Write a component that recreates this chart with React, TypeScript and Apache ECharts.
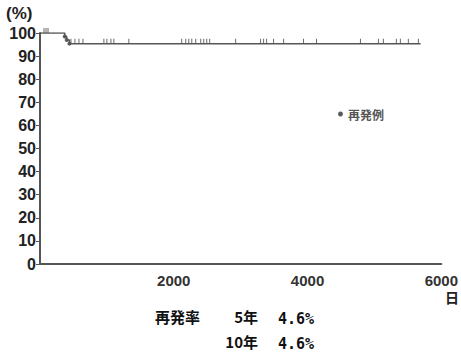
import React, { useEffect, useRef } from "react";
import * as echarts from "echarts";

const xTicks = [0, 2000, 4000, 6000];
const yTicks = [0, 10, 20, 30, 40, 50, 60, 70, 80, 90, 100];
// Kaplan-Meier step curve (days, %)
const stepDays = [0, 370, 400, 440, 5690];
const stepValues = [100, 98.5, 97, 95.4, 95.4];
// recurrence events (days)
const eventDays = [370, 400, 440];
// censored cases (days)
const censorDays = [
  60, 90, 120, 463, 522, 582, 642, 955, 1000, 1060, 1104, 1328, 2119, 2179,
  2224, 2269, 2328, 2403, 2448, 2493, 2537, 2925, 3298, 3343, 3388, 3492,
  3642, 3940, 4134, 4791, 5060, 5134, 5328, 5388, 5507, 5657,
];
const rateLabel = "再発率";
const rateRows = [
  { year: "5年", value: "4.6%" },
  { year: "10年", value: "4.6%" },
];
const legendName = "再発例";

function survivalAt(d: number): number {
  let v = stepValues[0];
  for (let i = 0; i < stepDays.length; i++) {
    if (stepDays[i] <= d) v = stepValues[i];
  }
  return v;
}

const FONT = "'Liberation Sans Narrow', 'Liberation Sans', 'Noto Sans CJK JP', sans-serif";
const CJK = "'Noto Sans CJK JP', sans-serif";
const MONO = "'DejaVu Sans Mono', monospace";

export default function App() {
  const ref = useRef<HTMLDivElement>(null);
  useEffect(() => {
    if (!ref.current) return;
    const chart = echarts.init(ref.current, undefined, { renderer: "svg" });
    const lineColor = "#555";
    chart.setOption({
      animation: false,
      backgroundColor: "#fff",
      grid: { left: 40, right: 18, top: 33, bottom: 93 },
      xAxis: {
        type: "value",
        min: xTicks[0],
        max: xTicks[xTicks.length - 1],
        interval: xTicks[1] - xTicks[0],
        axisLine: { show: true, lineStyle: { color: lineColor, width: 2 } },
        axisTick: { show: false },
        splitLine: { show: false },
        axisLabel: {
          showMinLabel: false,
          margin: 9,
          fontSize: 15,
          fontWeight: "bold",
          fontFamily: FONT,
          color: "#333",
          formatter: (v: number) => (v === 0 ? "" : String(v)),
        },
      },
      yAxis: {
        type: "value",
        min: yTicks[0],
        max: yTicks[yTicks.length - 1],
        interval: yTicks[1] - yTicks[0],
        axisLine: { show: true, lineStyle: { color: lineColor, width: 2 } },
        axisTick: { show: true, length: 4, lineStyle: { color: lineColor, width: 1 } },
        splitLine: { show: false },
        axisLabel: {
          margin: 4,
          fontSize: 16,
          fontWeight: "bold",
          fontFamily: FONT,
          color: "#222",
        },
      },
      legend: {
        data: [legendName],
        left: 333,
        top: 103,
        icon: "circle",
        itemWidth: 5,
        itemHeight: 5,
        itemGap: 4,
        textStyle: { fontSize: 12, color: "#555", fontFamily: CJK, fontWeight: "bold" },
      },
      series: [
        {
          type: "line",
          step: "end",
          data: stepDays.map((d, i) => [d, stepValues[i]]),
          showSymbol: false,
          lineStyle: { color: lineColor, width: 1.5 },
          silent: true,
        },
        {
          type: "scatter",
          data: censorDays.map((d) => [d, survivalAt(d)]),
          symbol: "rect",
          symbolSize: [1, 5],
          symbolOffset: [0, -2.5],
          itemStyle: { color: "#444" },
          silent: true,
        },
        {
          name: legendName,
          type: "scatter",
          data: eventDays.map((d) => [d, survivalAt(d)]),
          symbol: "circle",
          symbolSize: 4,
          itemStyle: { color: "#333" },
          silent: true,
        },
      ],
      graphic: [
        {
          type: "text",
          left: 6,
          top: 5,
          style: { text: "(%)", fontSize: 17, fontWeight: "bold", fontFamily: FONT, fill: "#222" },
        },
        {
          type: "text",
          left: 445,
          top: 290,
          style: { text: "日", fontSize: 14, fontWeight: "bold", fontFamily: CJK, fill: "#222" },
        },
        {
          type: "text",
          left: 155,
          top: 309,
          style: { text: rateLabel, fontSize: 15, fontWeight: "bold", fontFamily: CJK, fill: "#111" },
        },
        ...rateRows.flatMap((r, i) => [
          {
            type: "text",
            right: 461 - 258,
            top: 309 + i * 25,
            style: { text: r.year, fontSize: 15, fontWeight: "bold", fontFamily: CJK, fill: "#111" },
          },
          {
            type: "text",
            left: 278,
            top: 311 + i * 25,
            style: {
              text: r.value,
              fontSize: 15,
              fontWeight: "bold",
              fontFamily: MONO,
              fill: "#111",
            },
          },
        ]),
      ],
    });
    return () => chart.dispose();
  }, []);
  return (
    <div
      ref={ref}
      style={{ position: "absolute", left: 0, top: 0, width: 461, height: 357 }}
    />
  );
}
